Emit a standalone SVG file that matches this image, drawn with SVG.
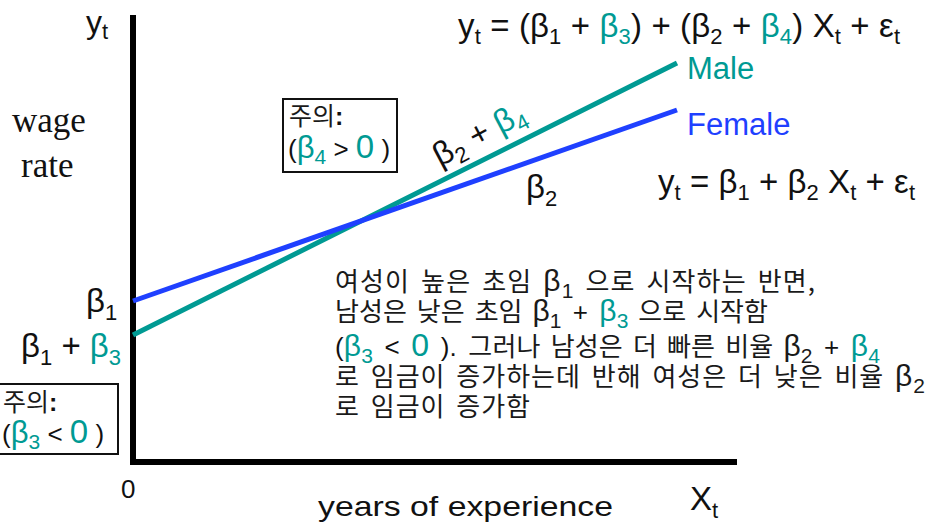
<svg xmlns="http://www.w3.org/2000/svg" width="933" height="524" viewBox="0 0 933 524">
<style>
.a{font-family:"Liberation Sans",Arial,sans-serif;fill:#111}
.k{font-family:"Noto Sans CJK KR","Liberation Sans",sans-serif;fill:#1a1a1a}
.ser{font-family:"Liberation Serif","Times New Roman",serif;fill:#111;font-size:35px}
.tl{fill:#009a93}
.bl{fill:#1f40ff}
.s{font-size:22px}
.eq{font-size:33px}
.box{fill:#fff;stroke:#111;stroke-width:2}
.kt{font-size:26px;word-spacing:4px}
.g{font-family:"Liberation Sans",Arial,sans-serif;font-size:30px}
.gs{font-family:"Liberation Sans",Arial,sans-serif;font-size:21px}
</style>
<rect width="933" height="524" fill="#fff"/>
<g id="axes" stroke="#000" stroke-width="6" fill="none">
<line x1="133" y1="15" x2="133" y2="465"/>
<line x1="130" y1="462" x2="737" y2="462"/>
</g>
<g id="connectors" stroke-width="5" fill="none">
<line id="male-line" x1="133" y1="335" x2="677" y2="63" stroke="#009a93"/>
<line id="female-line" x1="133" y1="301" x2="677" y2="110" stroke="#1f40ff"/>
</g>
<g id="axis-labels">
<text class="a" x="86" y="33" font-size="32">y<tspan class="s" dy="6">t</tspan></text>
<text class="ser" x="12" y="132">wage</text>
<text class="ser" x="21" y="177">rate</text>
<text class="a" x="121" y="498" font-size="26">0</text>
<text class="a" x="318" y="516" font-size="28" textLength="295" lengthAdjust="spacingAndGlyphs">years  of  experience</text>
<text class="a" x="690" y="510" font-size="33">X<tspan class="s" dy="8">t</tspan></text>
</g>
<g id="equation-male">
<text class="a eq" x="458" y="37" textLength="442">y<tspan class="s" dy="7">t</tspan><tspan dy="-7"> = (β</tspan><tspan class="s" dy="7">1</tspan><tspan dy="-7"> + </tspan><tspan class="tl">β</tspan><tspan class="s tl" dy="7">3</tspan><tspan dy="-7">) + (β</tspan><tspan class="s" dy="7">2</tspan><tspan dy="-7"> + </tspan><tspan class="tl">β</tspan><tspan class="s tl" dy="7">4</tspan><tspan dy="-7">) X</tspan><tspan class="s" dy="7">t</tspan><tspan dy="-7"> + ε</tspan><tspan class="s" dy="7">t</tspan></text>
</g>
<g id="equation-female">
<text class="a eq" x="658" y="193" textLength="257">y<tspan class="s" dy="7">t</tspan><tspan dy="-7"> = β</tspan><tspan class="s" dy="7">1</tspan><tspan dy="-7"> + β</tspan><tspan class="s" dy="7">2</tspan><tspan dy="-7"> X</tspan><tspan class="s" dy="7">t</tspan><tspan dy="-7"> + ε</tspan><tspan class="s" dy="7">t</tspan></text>
</g>
<g id="label-male"><text class="a tl" x="687" y="79" font-size="31">Male</text></g>
<g id="label-female"><text class="a bl" x="687" y="135" font-size="31">Female</text></g>
<g id="slope-male"><text class="a" font-size="33" transform="translate(440,167) rotate(-28)">β<tspan class="s" dy="7">2</tspan><tspan dy="-7"> + </tspan><tspan class="tl">β</tspan><tspan class="s tl" dy="7">4</tspan></text></g>
<g id="slope-female"><text class="a" x="526" y="198" font-size="33">β<tspan class="s" dy="8">2</tspan></text></g>
<g id="intercept-female"><text class="a" x="86" y="312" font-size="33">β<tspan class="s" dy="8">1</tspan></text></g>
<g id="intercept-male"><text class="a" x="21" y="357" font-size="33">β<tspan class="s" dy="8">1</tspan><tspan dy="-8"> + </tspan><tspan class="tl">β</tspan><tspan class="s tl" dy="8">3</tspan></text></g>
<g id="note-beta4">
<rect class="box" x="283" y="99" width="114" height="73"/>
<text class="k" x="289" y="125" font-size="25">주의<tspan class="a" font-weight="bold">:</tspan></text>
<text class="a" x="288" y="158" font-size="26">(<tspan class="tl" font-size="31">β</tspan><tspan class="tl" font-size="21" dy="6">4</tspan><tspan dy="-6"> &gt; </tspan><tspan class="tl" font-size="33">0</tspan> )</text>
</g>
<g id="note-beta3">
<rect class="box" x="-2" y="384" width="120" height="70"/>
<text class="k" x="3" y="411" font-size="25">주의<tspan class="a" font-weight="bold">:</tspan></text>
<text class="a" x="2" y="443" font-size="26">(<tspan class="tl" font-size="31">β</tspan><tspan class="tl" font-size="21" dy="6">3</tspan><tspan dy="-6"> &lt; </tspan><tspan class="tl" font-size="33">0</tspan> )</text>
</g>
<g id="explanation">
<text class="k kt" x="335" y="291" textLength="480">여성이 높은 초임 <tspan class="g">β</tspan><tspan class="gs" dy="7">1</tspan><tspan dy="-7"> 으로 시작하는 반면,</tspan></text>
<text class="k kt" x="335" y="321" textLength="433">남성은 낮은 초임 <tspan class="g">β</tspan><tspan class="gs" dy="7">1</tspan><tspan dy="-7" class="a" font-size="26"> + </tspan><tspan class="g tl">β</tspan><tspan class="gs tl" dy="7">3</tspan><tspan dy="-7"> 으로 시작함</tspan></text>
<text class="k kt" x="335" y="356" textLength="545"><tspan class="a" font-size="26">(</tspan><tspan class="g tl">β</tspan><tspan class="gs tl" dy="7">3</tspan><tspan dy="-7" class="a" font-size="26"> &lt; </tspan><tspan class="a tl" font-size="32">0</tspan><tspan class="a" font-size="26"> ).  </tspan>그러나 남성은 더 빠른 비율 <tspan class="g">β</tspan><tspan class="gs" dy="7">2</tspan><tspan dy="-7" class="a" font-size="26"> + </tspan><tspan class="g tl">β</tspan><tspan class="gs tl" dy="7">4</tspan></text>
<text class="k kt" x="335" y="386" textLength="590">로 임금이 증가하는데 반해 여성은 더 낮은 비율 <tspan class="g">β</tspan><tspan class="gs" dy="7">2</tspan></text>
<text class="k kt" x="335" y="416" textLength="195">로 임금이 증가함</text>
</g>
</svg>
